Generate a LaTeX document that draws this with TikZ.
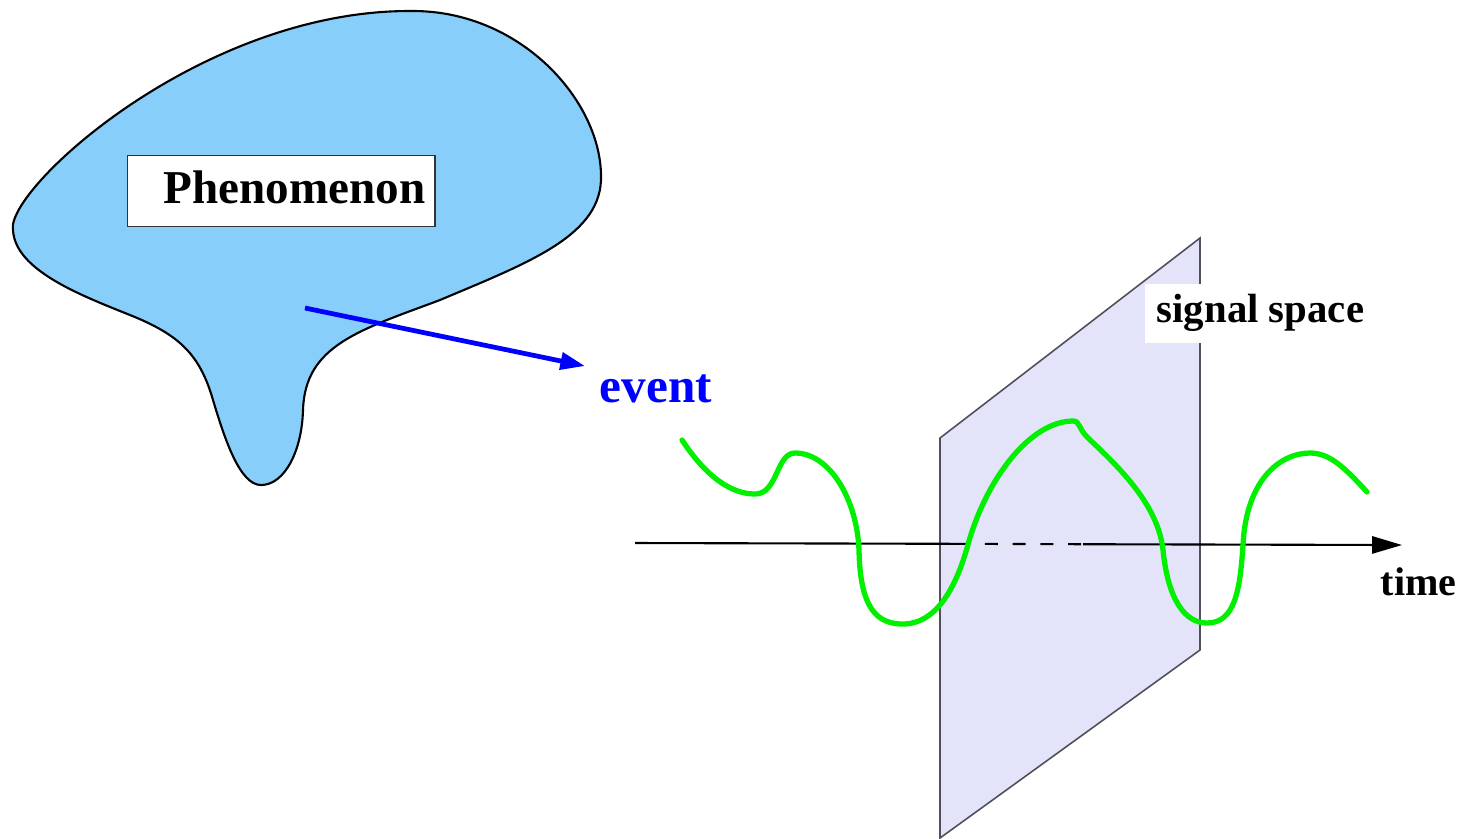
\documentclass[tikz,border=0pt]{standalone}
\usepackage{fontspec}
\setmainfont{Liberation Serif}
\usetikzlibrary{arrows.meta}
\definecolor{blobfill}{RGB}{135,206,250}
\definecolor{planefill}{RGB}{227,227,250}
\definecolor{planeedge}{RGB}{80,80,90}
\definecolor{sigblue}{RGB}{0,0,255}
\definecolor{siggreen}{RGB}{0,240,0}
\tikzset{
  blob/.style={draw=black, line width=0.6pt, fill=blobfill},
  plane/.style={fill=planefill},
  planeline/.style={draw=planeedge, line width=0.45pt},
  axisline/.style={draw=black, line width=0.6pt},
  eventarrow/.style={draw=sigblue, line width=1.35pt, -{Triangle[length=7pt,width=4.8pt]}},
  wave/.style={draw=siggreen, line width=1.5pt, line cap=round, line join=round},
  lbl/.style={inner sep=0pt, font=\bfseries},
}
\begin{document}
\begin{tikzpicture}[x=0.01cm, y=-0.01cm]
\useasboundingbox (0,0) rectangle (1464,838);
% blob
\draw[blob] (13,230)
  .. controls (5,190) and (200,10) .. (411,11)
  .. controls (520,10) and (600,100) .. (601,175)
  .. controls (603,235) and (530,262) .. (440,300)
  .. controls (360,330) and (305,345) .. (303,410)
  .. controls (302,450) and (285,485) .. (261,485)
  .. controls (240,485) and (225,440) .. (213,400)
  .. controls (200,355) and (180,335) .. (130,315)
  .. controls (80,295) and (15,270) .. (13,230) -- cycle;
% phenomenon box
\node[draw=black!80, line width=0.4pt, fill=white, inner sep=0pt,
  anchor=north west, minimum width=3.07cm, minimum height=0.71cm] (phbox) at (127,155) {};
\node[lbl, anchor=base west, font=\fontsize{13.4}{16}\selectfont\bfseries] (phen) at (163,203) {Phenomenon};
% event arrow
\coordinate (evstart) at (305,308);
\coordinate (evend) at (585,366);
\draw[eventarrow] (evstart) -- (evend);
\node[lbl, anchor=base west, text=sigblue, font=\fontsize{14}{16}\selectfont\bfseries] (event) at (599,402) {event};
% plane
\coordinate (p1) at (940,438);
\coordinate (p2) at (1200,238);
\coordinate (p3) at (1200,650);
\coordinate (p4) at (940,838);
\fill[plane] (p1) -- (p2) -- (p3) -- (p4) -- cycle;
\draw[planeline] (p1) -- (p2) -- (p3) -- (p4) -- cycle;
% signal space label
\node[fill=white, anchor=north west, minimum width=2.22cm, minimum height=0.59cm, inner sep=0pt] (ssbox) at (1144,283) {};
\node[lbl, anchor=base west, font=\fontsize{11.6}{14}\selectfont\bfseries] (ss) at (1156,322) {signal space};
% time axis
\coordinate (ax0) at (635,543);
\coordinate (axd1) at (957,543.8);
\coordinate (axd2) at (1083,544.2);
\coordinate (ax1) at (1402,545);
\draw[axisline] (ax0) -- (axd1);
\draw[axisline, dash pattern=on 3.7pt off 4.2pt] (axd1) -- (axd2);
\draw[axisline, -{Triangle[length=8.5pt,width=4.9pt]}] (axd2) -- (ax1);
\node[lbl, anchor=base west, font=\fontsize{11.4}{14}\selectfont\bfseries] (time) at (1380,595) {time};
% signal
\draw[wave] (682,440)
  .. controls (705,475) and (730,494) .. (755,494)
  .. controls (778,494) and (776,453) .. (795,453)
  .. controls (830,453) and (857,500) .. (859,550)
  .. controls (860,610) and (878,624) .. (903,624)
  .. controls (935,624) and (955,590) .. (967,548)
  .. controls (985,480) and (1030,421) .. (1073,421)
  .. controls (1080,421) and (1078,428) .. (1088,438)
  .. controls (1120,468) and (1158,505) .. (1163,550)
  .. controls (1168,600) and (1185,623) .. (1207,623)
  .. controls (1235,623) and (1240,590) .. (1243,545)
  .. controls (1246,480) and (1280,453) .. (1310,453)
  .. controls (1330,453) and (1345,468) .. (1367,492);
\end{tikzpicture}
\end{document}
